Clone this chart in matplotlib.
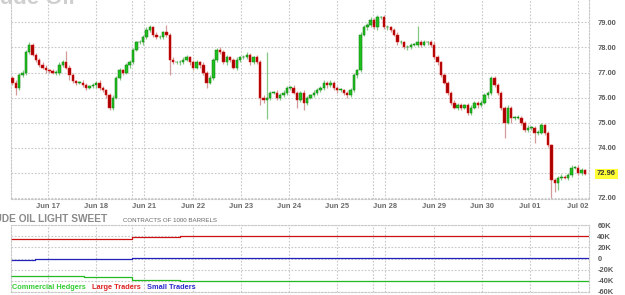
import numpy as np
import matplotlib
matplotlib.use('Agg')
import matplotlib.pyplot as plt

# ---------------- data ----------------
date_labels = ['Jun 17', 'Jun 18', 'Jun 21', 'Jun 22', 'Jun 23', 'Jun 24',
               'Jun 25', 'Jun 28', 'Jun 29', 'Jun 30', 'Jul 01', 'Jul 02']
label_sessions = [1, 2, 3, 4, 5, 6, 7, 8, 9, 10, 11, 12]   # trading-session index
week_starts = [3, 8]                                        # Sunday-evening session opens
label_offset = 6 / 23                                       # midnight, 6h into the 23h session
view_start, view_end = 0.494, 12.485
first_bar, last_bar = 0.525, 12.40

first_open = 76.8
close = [76.6, 76.4, 76.9, 77.0, 77.8, 78.1, 77.7, 77.5, 77.3, 77.2,
         77.1, 77.05, 77.0, 77.0, 77.3, 77.4, 77.2, 76.9, 76.65, 76.6,
         76.6, 76.5, 76.4, 76.45, 76.5, 76.6, 76.4, 76.3, 76.1, 75.6,
         76.0, 76.8, 77.1, 77.0, 77.3, 77.4, 77.9, 78.2, 78.2, 78.4,
         78.7, 78.8, 78.5, 78.4, 78.4, 78.6, 78.5, 77.5, 77.4, 77.4,
         77.4, 77.5, 77.6, 77.4, 77.2, 77.4, 77.3, 77.0, 76.6, 76.8,
         77.5, 77.9, 77.8, 77.4, 77.6, 77.5, 77.2, 77.5, 77.6, 77.6,
         77.7, 77.4, 77.6, 77.4, 76.0, 75.9, 76.0, 76.2, 76.2, 76.0,
         76.1, 76.2, 76.4, 76.4, 76.2, 75.9, 76.2, 75.8, 76.0, 76.1,
         76.2, 76.3, 76.4, 76.6, 76.5, 76.6, 76.4, 76.3, 76.3, 76.2,
         76.1, 76.3, 76.9, 77.1, 78.5, 78.8, 78.9, 79.1, 78.8, 79.2,
         79.2, 78.8, 78.8, 78.7, 78.5, 78.2, 78.2, 78.0, 78.0, 78.1,
         78.1, 78.2, 78.1, 78.2, 78.2, 78.1, 77.6, 77.4, 76.9, 76.6,
         76.2, 75.8, 75.6, 75.7, 75.6, 75.7, 75.4, 75.6, 75.8, 75.7,
         75.8, 76.1, 76.2, 76.8, 76.5, 76.2, 75.6, 75.0, 75.6, 75.2,
         75.2, 75.2, 75.0, 74.7, 74.8, 74.8, 74.6, 74.6, 74.9, 74.6,
         74.1, 72.7, 72.6, 72.8, 72.85, 72.8, 72.9, 73.2, 73.2, 73.0,
         73.1, 72.96]

upper_wick = [.08, .1, .1, .1, .08, .1, .08, .06, .08, .1,
              .08, .06, .08, .1, .1, .08, .45, .1, .08, .06,
              .08, .1, .08, .06, .1, .08, .1, .08, .06, .08,
              .1, .08, .1, .06, .08, .1, .08, .06, .1, .08,
              .1, .08, .06, .1, .08, .06, .3, .08, .1, .06,
              .08, .1, .08, .06, .1, .08, .06, .1, .08, .1,
              .08, .06, .1, .08, .1, .06, .08, .1, .06, .08,
              .1, .08, .06, .1, .08, .1, 1.8, .08, .06, .1,
              .08, .1, .06, .08, .1, .08, .06, .1, .08, .06,
              .1, .08, .06, .1, .08, .1, .06, .08, .1, .06,
              .08, .1, .08, .06, .1, .08, .06, .1, .08, .1,
              .06, .08, .1, .06, .08, .1, .08, .06, .1, .08,
              .06, .65, .08, .1, .06, .08, .1, .08, .06, .1,
              .08, .06, .1, .08, .1, .06, .08, .1, .06, .08,
              .1, .08, .06, .05, .08, .1, .06, .08, .1, .06,
              .08, .1, .06, .08, .1, .08, .06, .1, .08, .06,
              .08, .06, .1, .08, .1, .06, .08, .1, .08, .1,
              .08, .06]

lower_wick = [.1, .3, .08, .06, .1, .08, .06, .1, .08, .06,
              .1, .08, .06, .08, .1, .08, .06, .2, .08, .1,
              .06, .08, .1, .06, .08, .1, .08, .06, .1, .1,
              .08, .06, .1, .08, .06, .1, .08, .06, .08, .1,
              .06, .08, .1, .08, .06, .08, .1, .6, .08, .06,
              .1, .08, .06, .1, .08, .06, .1, .08, .2, .06,
              .08, .1, .06, .08, .1, .08, .06, .1, .08, .06,
              .08, .1, .06, .08, .3, .1, .75, .08, .06, .1,
              .08, .06, .1, .08, .06, .3, .08, .3, .1, .06,
              .08, .1, .06, .08, .1, .06, .08, .1, .06, .08,
              .1, .08, .06, .1, .08, .06, .1, .08, .06, .1,
              .08, .06, .1, .08, .06, .1, .08, .06, .1, .08,
              .06, .1, .08, .06, .1, .08, .06, .1, .08, .06,
              .1, .08, .06, .1, .08, .06, .1, .08, .06, .1,
              .08, .06, .1, .08, .06, .1, .08, .6, .06, .2,
              .08, .06, .1, .08, .06, .1, .4, .08, .06, .1,
              .08, .7, .35, .3, .08, .06, .1, .08, .06, .1,
              .08, .06]

price_ticks = [72, 73, 74, 75, 76, 77, 78, 79]
price_tick_labels = ['72.00', '', '74.00', '75.00', '76.00', '77.00', '78.00', '79.00']
last_price = 72.96

# COT positions (thousands of contracts), one value per session
cot_sessions = [0.494, 1, 2, 3, 4, 5, 6, 7, 8, 9, 10, 11, 12, 12.485]
large_traders = [34.4, 35.3, 35.7, 39.0, 39.8, 39.8, 39.8, 39.8, 39.8, 39.8, 39.8, 39.8, 39.8, 39.8]
small_traders = [-3.6, -1.8, -1.2, 1.0, 1.1, 1.1, 1.1, 1.1, 1.1, 1.1, 1.1, 1.1, 1.1, 1.1]
commercial = [-30.8, -32.2, -34.0, -39.5, -41.0, -41.0, -41.0, -41.0, -41.0, -41.0, -41.0, -41.0, -41.0, -41.0]
cot_ticks = [-60, -40, -20, 0, 20, 40, 60]
cot_tick_labels = ['-60K', '-40K', '-20K', '0', '20K', '40K', '60K']

# ---------------- figure ----------------
plt.rcParams['font.family'] = ['Liberation Sans', 'DejaVu Sans']
W, H = 625, 295
fig = plt.figure(figsize=(W / 100, H / 100), dpi=100)
fig.patch.set_facecolor('white')


def rect(x0, y0, x1, y1):
    return [x0 / W, 1 - y1 / H, (x1 - x0) / W, (y1 - y0) / H]


ax = fig.add_axes(rect(11, 0, 589, 198.5))
ax2 = fig.add_axes(rect(11, 225.3, 589, 291.7))

grid_kw = dict(color='#c8c8c8', linestyle=(0, (1.5, 1.5)), linewidth=0.8)

close = np.array(close)
opens = np.r_[first_open, close[:-1]]
hi = np.maximum(opens, close) + np.array(upper_wick)
lo = np.minimum(opens, close) - np.array(lower_wick)
pos = np.linspace(first_bar, last_bar, len(close))
dt = pos[1] - pos[0]
up = close >= opens

wick_col = np.where(up, '#86c986', '#d49a9a')
body_col = np.where(up, '#1fbf1f', '#a80000')
edge_col = np.where(up, '#0b7a0b', '#e01818')

ax.vlines(pos, lo, hi, colors=wick_col, linewidth=0.9, zorder=2)
ax.bar(pos, np.maximum(np.abs(close - opens), 0.03), bottom=np.minimum(opens, close),
       width=dt * 0.72, color=body_col, edgecolor=edge_col, linewidth=0.35, zorder=3)

xt = [s + label_offset for s in label_sessions]
for a in (ax, ax2):
    a.set_xlim(view_start, view_end)
    a.set_xticks(xt)
    a.set_xticks(week_starts, minor=True)
    a.grid(True, which='both', axis='x', **grid_kw)
    a.grid(True, which='major', axis='y', **grid_kw)
    a.set_axisbelow(True)
    a.yaxis.tick_right()
    a.tick_params(axis='both', which='both', length=0)
    for side in ('left', 'right', 'bottom', 'top'):
        a.spines[side].set_color('#c8c8c8')
        a.spines[side].set_linestyle((0, (1.5, 1.5)))
        a.spines[side].set_linewidth(0.8)
ax.spines['top'].set_visible(False)

ax.set_ylim(71.98, 79.89)
ax.set_yticks(price_ticks)
ax.set_yticklabels(price_tick_labels)
ax.set_xticklabels(date_labels)
ax.tick_params(axis='x', pad=3, labelsize=5.4, labelcolor='#6a6a6a')
ax.tick_params(axis='y', pad=6, labelsize=5.4, labelcolor='#5a5a5a')
for t in ax.get_xticklabels() + ax.get_yticklabels():
    t.set_fontweight('bold')

ax.text(1.0, last_price, f'{last_price:.2f}', transform=ax.get_yaxis_transform(),
        ha='left', va='center', fontsize=5.4, fontweight='bold', color='#333333',
        bbox=dict(boxstyle='square,pad=0.25', fc='#ffff33', ec='none'), clip_on=False)
# shift the label slightly right of the axes like the axis labels
ax.texts[-1].set_x(1.0 + 8 / 578)

ax2.plot(cot_sessions, large_traders, drawstyle='steps-post', color='#cc1111', lw=0.9)
ax2.plot(cot_sessions, small_traders, drawstyle='steps-post', color='#2222bb', lw=0.9)
ax2.plot(cot_sessions, commercial, drawstyle='steps-post', color='#22bb22', lw=0.9)
ax2.set_ylim(-60, 60)
ax2.set_yticks(cot_ticks)
ax2.set_yticklabels(cot_tick_labels)
ax2.set_xticklabels([])
ax2.tick_params(axis='y', pad=6, labelsize=5.4, labelcolor='#5a5a5a')
for t in ax2.get_yticklabels():
    t.set_fontweight('bold')

# texts
fig.text(75 / W, 1 - 4.5 / H, 'Crude Oil', ha='right', va='baseline',
         fontsize=16, fontweight='bold', color='#cfcfcf')
fig.text(107 / W, 1 - 222.5 / H, 'CRUDE OIL LIGHT SWEET', ha='right', va='baseline',
         fontsize=7.3, fontweight='bold', color='#8a8a8a')
fig.text(123 / W, 1 - 221.5 / H, 'CONTRACTS OF 1000 BARRELS', ha='left', va='baseline',
         fontsize=4.4, color='#666666')
for xpx, txt, col in [(12, 'Commercial Hedgers', '#33cc33'),
                      (92, 'Large Traders', '#dd2222'),
                      (147, 'Small Traders', '#2a2acc')]:
    fig.text(xpx / W, 1 - 287.5 / H, txt, ha='left', va='center',
             fontsize=5.3, fontweight='bold', color=col)

fig.savefig('out.png', dpi=100)
